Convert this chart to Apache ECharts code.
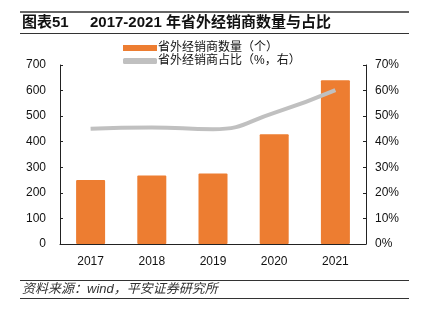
<!DOCTYPE html>
<html><head><meta charset="utf-8">
<script src="https://cdn.jsdelivr.net/npm/echarts@6/dist/echarts.min.js"></script>
<style>html,body{margin:0;padding:0;background:#fff}#c{width:423px;height:323px}</style>
</head><body><div id="c"></div>
<script>
const categories = ['2017','2018','2019','2020','2021'];
const dealerCount = [250, 268, 276, 429, 640];
const dealerShare = [45.1, 45.6, 44.9, 51.3, 60.2];
const leftTicks = [0,100,200,300,400,500,600,700];
const rightTicks = ['0%','10%','20%','30%','40%','50%','60%','70%'];
const titleLabel = '图表51';
const titleText = '2017-2021 年省外经销商数量与占比';
const sourceText = '资料来源：wind，平安证券研究所';
const barName = '省外经销商数量（个）';
const lineName = '省外经销商占比（%，右）';

const FONT = '"Liberation Sans", Arial, "Noto Sans CJK SC", sans-serif';
const chart = echarts.init(document.getElementById('c'), null, {renderer:'canvas'});
chart.setOption({
  animation:false,
  textStyle:{fontFamily:FONT},
  graphic:[
    {type:'line', shape:{x1:20,y1:12,x2:409,y2:12}, style:{stroke:'#333',lineWidth:1.5}},
    {type:'text', left:22, top:15, style:{text:titleLabel, font:'bold 15px '+FONT, fill:'#111'}},
    {type:'text', left:90, top:15, style:{text:titleText, font:'bold 15px '+FONT, fill:'#111'}},
    {type:'line', shape:{x1:20,y1:33.5,x2:409,y2:33.5}, style:{stroke:'#333',lineWidth:1}},
    {type:'line', shape:{x1:20,y1:280.5,x2:409,y2:280.5}, style:{stroke:'#333',lineWidth:1}},
    {type:'text', left:22, top:283, style:{text:sourceText, font:'italic 13px '+FONT, fill:'#333'}},
    {type:'line', shape:{x1:20,y1:298.5,x2:409,y2:298.5}, style:{stroke:'#333',lineWidth:1}}
  ],
  legend:{
    orient:'vertical', left:118, top:37, itemGap:1, itemWidth:34, itemHeight:6,
    textStyle:{fontSize:12, color:'#111', fontFamily:FONT, padding:[0,0,0,-4]},
    data:[{name:barName, icon:'rect'}, {name:lineName, icon:'roundRect'}]
  },
  grid:{left:60, right:57, top:65, bottom:79},
  xAxis:{
    type:'category', data:categories,
    axisLine:{lineStyle:{color:'#222', width:1}},
    axisTick:{inside:true, length:3, lineStyle:{color:'#222'}},
    axisLabel:{color:'#111', fontSize:12, margin:12}
  },
  yAxis:[
    {type:'value', min:0, max:700, interval:100, splitLine:{show:false},
     axisLine:{show:true, lineStyle:{color:'#222'}},
     axisTick:{show:true, inside:true, length:3, lineStyle:{color:'#222'}},
     axisLabel:{color:'#111', fontSize:12, margin:14}},
    {type:'value', min:0, max:70, interval:10, splitLine:{show:false}, position:'right',
     axisLine:{show:true, lineStyle:{color:'#222'}},
     axisTick:{show:true, inside:true, length:3, lineStyle:{color:'#222'}},
     axisLabel:{color:'#111', fontSize:12, margin:9,
       formatter:(v)=>rightTicks[leftTicks.indexOf(v*10)] ?? (v+'%')}}
  ],
  series:[
    {name:barName, type:'bar', data:dealerCount, barWidth:29,
     itemStyle:{color:'#ED7D31', borderRadius:1}},
    {name:lineName, type:'line', yAxisIndex:1, data:dealerShare, smooth:true,
     symbol:'none', lineStyle:{color:'#C0C0C0', width:4}, itemStyle:{color:'#C0C0C0'}}
  ]
});
</script></body></html>
